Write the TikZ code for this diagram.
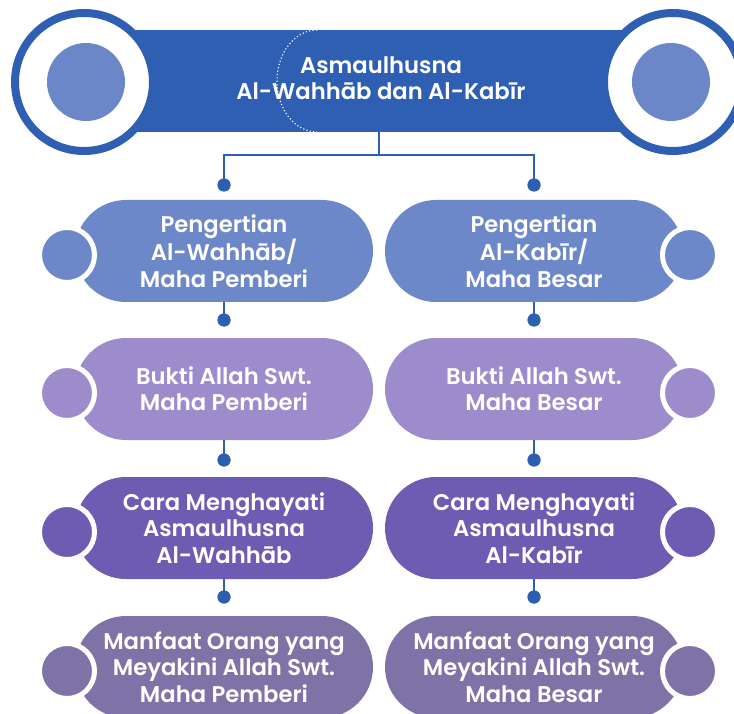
\documentclass[tikz,border=0pt]{standalone}
\usepackage{fontspec}
\setmainfont{Poppins}[BoldFont={Poppins SemiBold},Ligatures=NoCommon]
\definecolor{bannerblue}{HTML}{2E5FB3}
\definecolor{ringinner}{HTML}{6C87C8}
\definecolor{rowA}{HTML}{6D88C9}
\definecolor{rowB}{HTML}{9C8CCB}
\definecolor{rowC}{HTML}{6E5BB2}
\definecolor{rowD}{HTML}{7F72A6}
\definecolor{linkblue}{HTML}{2D5FB0}
\newcommand{\pilltext}{\fontsize{22.7}{26.3}\selectfont\bfseries}
\begin{document}
\begin{tikzpicture}[x=1pt,y=-1pt,
  pill/.style={rectangle, rounded corners=51pt, minimum width=298pt, minimum height=102pt, inner sep=0pt, text=white, align=center, font=\pilltext},
  knob/.style={circle, draw=white, line width=5pt, minimum size=55pt, inner sep=0pt},
  dotnode/.style={circle, fill=linkblue, minimum size=13pt, inner sep=0pt},
  link/.style={draw=linkblue, line width=2.5pt},
  bigring/.style={circle, fill=white, draw=bannerblue, line width=8pt, minimum size=138pt, inner sep=0pt},
  bigcore/.style={circle, fill=ringinner, minimum size=78pt, inner sep=0pt}]
\useasboundingbox (0,0) rectangle (734,714);

% banner
\node[rectangle, fill=bannerblue, minimum width=589pt, minimum height=102pt, inner sep=0pt] (banner) at (379,81) {};
\node[bigring] (ringL) at (84,82) {};
\node[bigcore] (coreL) at (86,82) {};
\node[bigring] (ringR) at (673,82) {};
\node[bigcore] (coreR) at (671,82) {};
\draw[white, line width=1.1pt, dash pattern=on 1.2pt off 2.2pt] (317,30) arc[start angle=270, end angle=90, x radius=40, y radius=51];
\node[text=white, align=center, font=\pilltext] (title) at (381,78) {Asmaulhusna\\Al-Wahhāb dan Al-Kabīr};

% pills
\node[pill, fill=rowA] (a1) at (224,251) {Pengertian\\Al-Wahhāb/\\Maha Pemberi};
\node[pill, fill=rowA] (b1) at (534,251) {Pengertian\\Al-Kabīr/\\Maha Besar};
\node[pill, fill=rowB] (a2) at (224,389) {Bukti Allah Swt.\\Maha Pemberi};
\node[pill, fill=rowB] (b2) at (534,389) {Bukti Allah Swt.\\Maha Besar};
\node[pill, fill=rowC] (a3) at (224,528) {Cara Menghayati\\Asmaulhusna\\Al-Wahhāb};
\node[pill, fill=rowC] (b3) at (534,528) {Cara Menghayati\\Asmaulhusna\\Al-Kabīr};
\node[pill, fill=rowD] (a4) at (224,667) {Manfaat Orang yang\\Meyakini Allah Swt.\\Maha Pemberi};
\node[pill, fill=rowD] (b4) at (534,667) {Manfaat Orang yang\\Meyakini Allah Swt.\\Maha Besar};

% knobs
\node[knob, fill=rowA] (ka1) at (67,255) {};
\node[knob, fill=rowA] (kb1) at (690,255) {};
\node[knob, fill=rowB] (ka2) at (67,393) {};
\node[knob, fill=rowB] (kb2) at (690,393) {};
\node[knob, fill=rowC] (ka3) at (67,532) {};
\node[knob, fill=rowC] (kb3) at (690,532) {};
\node[knob, fill=rowD] (ka4) at (67,671) {};
\node[knob, fill=rowD] (kb4) at (690,671) {};

% connectors
\coordinate (junction) at (379,155);
\node[dotnode] (d0a) at (224,185) {};
\node[dotnode] (d0b) at (534,185) {};
\node[dotnode] (d1a) at (224,320) {};
\node[dotnode] (d1b) at (534,320) {};
\node[dotnode] (d2a) at (224,460) {};
\node[dotnode] (d2b) at (534,460) {};
\node[dotnode] (d3a) at (224,597) {};
\node[dotnode] (d3b) at (534,597) {};

\draw[link] (banner.south -| junction) -- (junction);
\draw[link] (d0a.center) |- (junction) -| (d0b.center);
\draw[link] (a1.south) -- (d1a.center);
\draw[link] (b1.south) -- (d1b.center);
\draw[link] (a2.south) -- (d2a.center);
\draw[link] (b2.south) -- (d2b.center);
\draw[link] (a3.south) -- (d3a.center);
\draw[link] (b3.south) -- (d3b.center);
\foreach \d in {d0a,d0b,d1a,d1b,d2a,d2b,d3a,d3b} \fill[linkblue] (\d) circle (6.5pt);
\end{tikzpicture}
\end{document}
